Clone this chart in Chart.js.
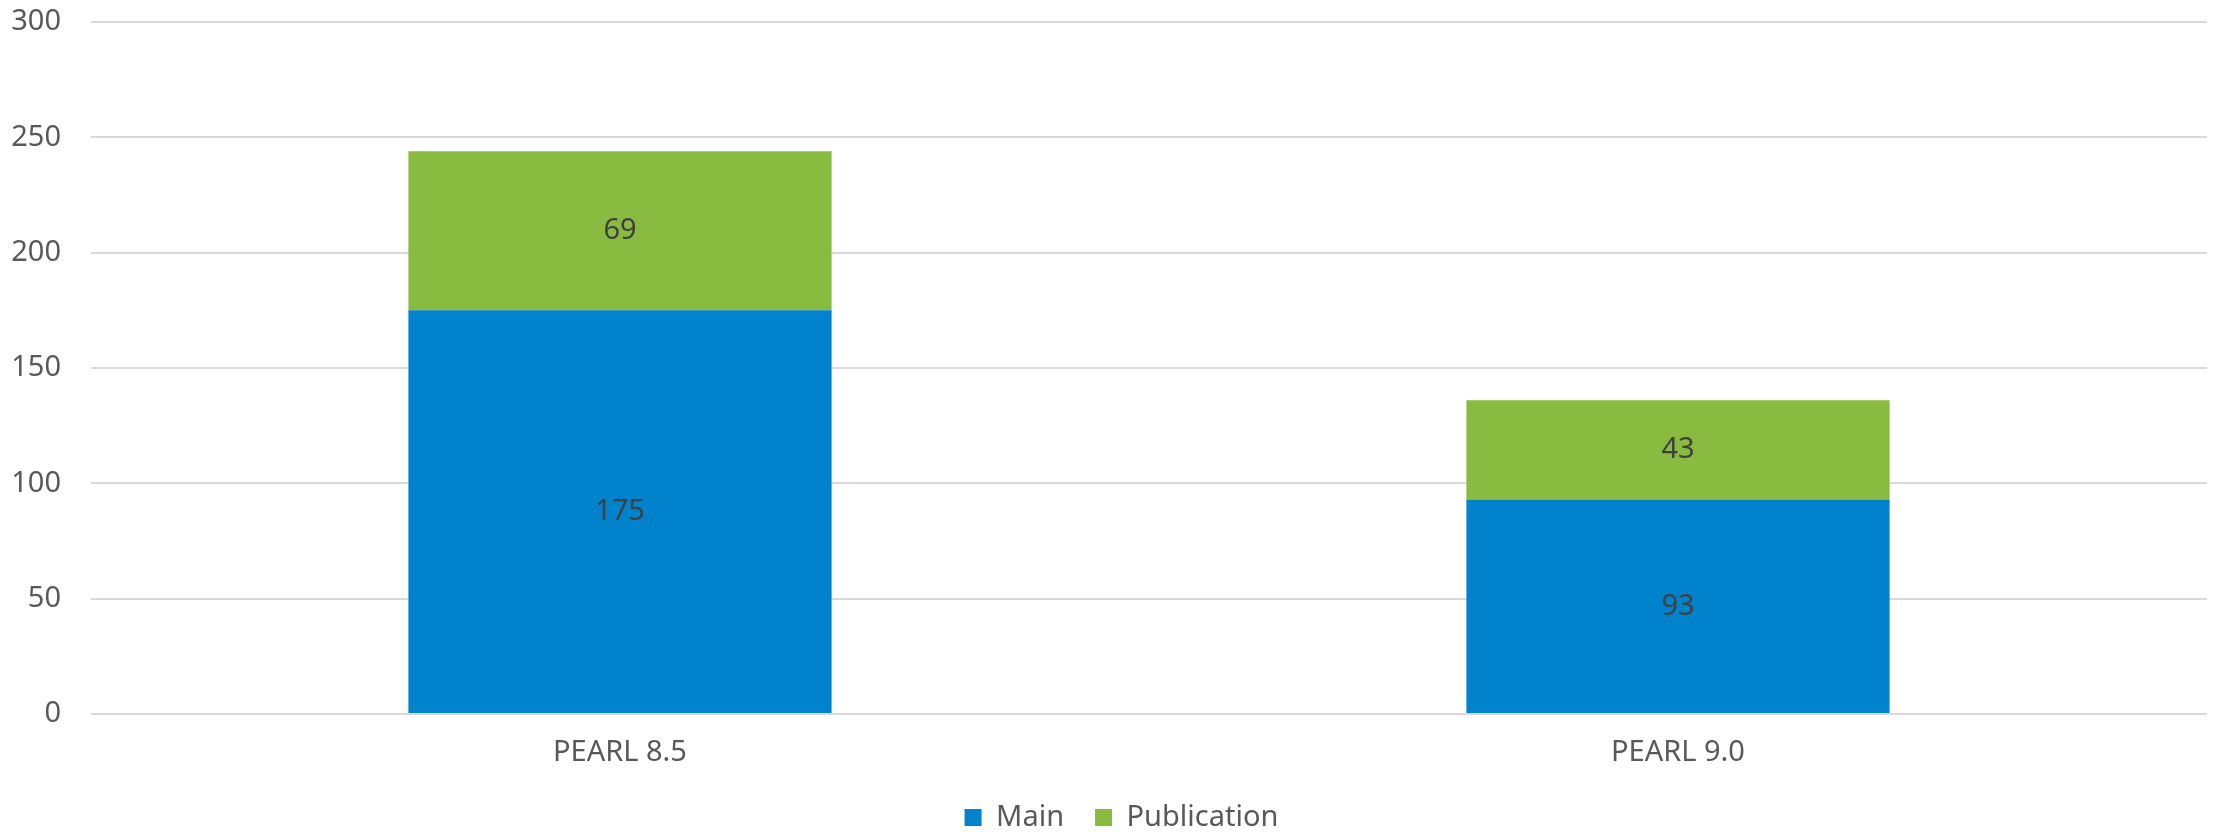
<!DOCTYPE html>
<html>
<head>
<meta charset="utf-8">
<script src="https://cdn.jsdelivr.net/npm/chart.js@4"></script>
<style>
  html, body { margin: 0; padding: 0; background: #ffffff; }
  #wrap { width: 2217px; height: 832px; position: relative; }
</style>
</head>
<body>
<div id="wrap"><canvas id="c" width="2217" height="832"></canvas></div>
<script>
const categories = ["PEARL 8.5", "PEARL 9.0"];
const mainValues = [175, 93];
const publicationValues = [69, 43];
const yTicks = [0, 50, 100, 150, 200, 250, 300];

const FONT = "'Noto Sans', 'Open Sans', sans-serif";

const barLabels = {
  id: 'barLabels',
  afterLayout(chart) {
    if (chart.legend) { chart.legend.left += 18; chart.legend.right += 18; }
  },
  afterDatasetsDraw(chart) {
    const ctx = chart.ctx;
    ctx.save();
    ctx.font = "29px " + FONT;
    ctx.fillStyle = '#404040';
    ctx.textAlign = 'center';
    ctx.textBaseline = 'middle';
    chart.data.datasets.forEach((ds, di) => {
      const meta = chart.getDatasetMeta(di);
      meta.data.forEach((bar, i) => {
        const p = bar.getProps(['x', 'y', 'base'], true);
        ctx.fillText(String(ds.data[i]), p.x, (p.y + p.base) / 2);
      });
    });
    ctx.restore();
  }
};

new Chart(document.getElementById('c'), {
  type: 'bar',
  data: {
    labels: categories,
    datasets: [
      { label: 'Main', data: mainValues, backgroundColor: '#0083CC', borderWidth: 0,
        barPercentage: 0.4, categoryPercentage: 1.0 },
      { label: 'Publication', data: publicationValues, backgroundColor: '#88BB40', borderWidth: 0,
        barPercentage: 0.4, categoryPercentage: 1.0 }
    ]
  },
  options: {
    responsive: false,
    animation: false,
    devicePixelRatio: 1,
    layout: { padding: { top: 22, right: 10, bottom: -10, left: 0 } },
    plugins: {
      tooltip: { enabled: false },
      legend: {
        position: 'bottom',
        labels: {
          boxWidth: 17, boxHeight: 17, padding: 31,
          color: '#595959',
          font: { family: FONT, size: 29 }
        }
      }
    },
    scales: {
      x: {
        stacked: true,
        grid: { display: false },
        border: { display: false },
        ticks: { color: '#595959', font: { family: FONT, size: 29 }, padding: 13 },
        afterFit(scale) { scale.height = 58; scale.paddingLeft = 0; scale.paddingRight = 0; }
      },
      y: {
        stacked: true,
        min: 0, max: 300,
        afterBuildTicks(scale) { scale.ticks = yTicks.map(v => ({ value: v })); },
        grid: { color: '#d9d9d9', lineWidth: 2, drawTicks: false },
        border: { display: false },
        ticks: { color: '#595959', font: { family: FONT, size: 29 }, padding: 30 },
        afterFit(scale) { scale.width = 91; scale.paddingTop = 0; scale.paddingBottom = 0; }
      }
    }
  },
  plugins: [barLabels]
});
</script>
</body>
</html>
